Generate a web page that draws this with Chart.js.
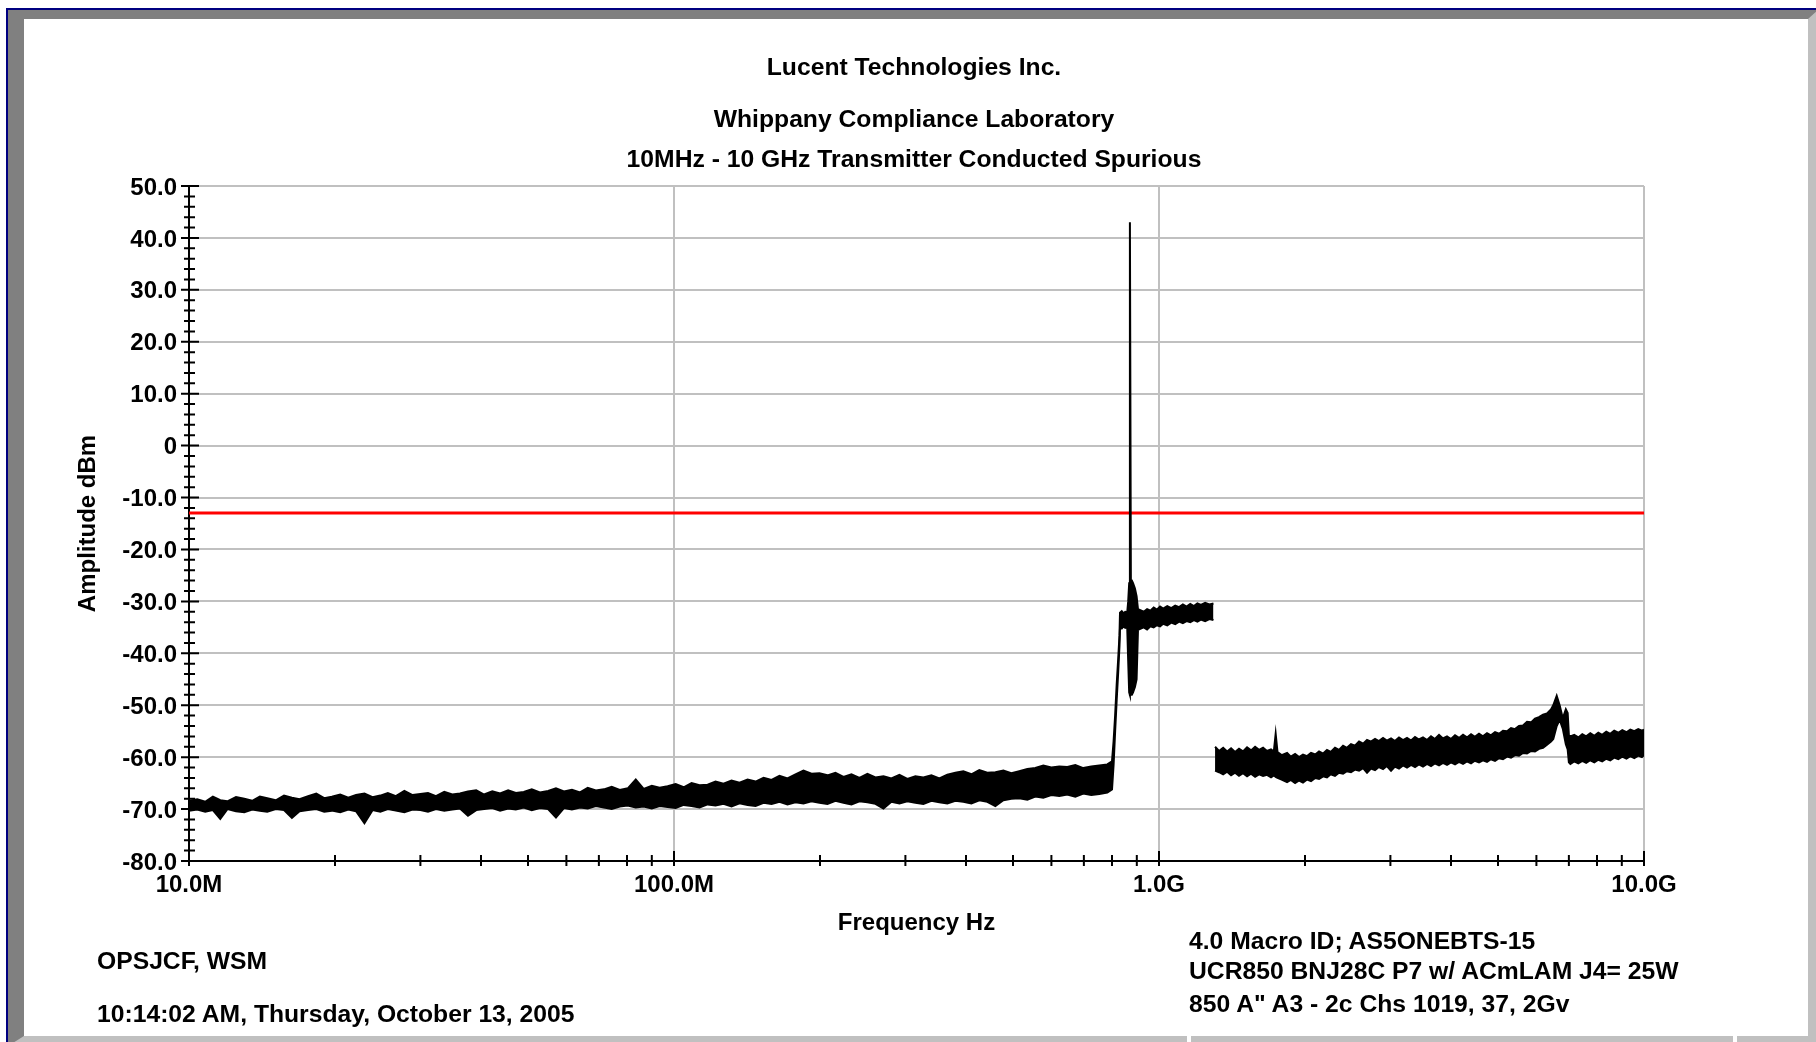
<!DOCTYPE html>
<html>
<head>
<meta charset="utf-8">
<title>Transmitter Conducted Spurious</title>
<script src="https://cdn.jsdelivr.net/npm/chart.js@4.4.0/dist/chart.umd.min.js"></script>
<style>
    html, body { margin: 0; padding: 0; background: #fff; overflow: hidden; }
    body { width: 1816px; height: 1042px; position: relative; font-family: 'Liberation Sans', Arial, sans-serif; font-weight: bold; font-size: 24.7px; color: #000; }
    .navy-top { position: absolute; left: 6px; top: 8px; width: 1810px; height: 2px; background: #000080; }
    .navy-left { position: absolute; left: 6px; top: 8px; width: 2px; height: 1034px; background: #000080; }
    .bevel { position: absolute; left: 8px; top: 10px; width: 1784px; height: 1017px; border-style: solid; border-width: 9px 10px 10px 16px; border-color: #808080 #c0c0c0 #c0c0c0 #808080; background: #fff; }
    .gap { position: absolute; top: 1036px; width: 4px; height: 6px; background: #fff; }
    #chart { position: absolute; left: 0; top: 0; }
    .txt { position: absolute; line-height: 28px; white-space: nowrap; }
    .center { transform: translateX(-50%); }
</style>
</head>
<body>
<div class="navy-top"></div>
<div class="navy-left"></div>
<div class="bevel"></div>
<div class="gap" style="left:1187px"></div>
<div class="gap" style="left:1733px"></div>
<canvas id="chart" width="1816" height="1042"></canvas>

<div class="txt center" style="left:914px; top:53px">Lucent Technologies Inc.</div>
<div class="txt center" style="left:914px; top:105px">Whippany Compliance Laboratory</div>
<div class="txt center" style="left:914px; top:145px">10MHz - 10 GHz Transmitter Conducted Spurious</div>
<div class="txt" style="left:97px; top:947px">OPSJCF, WSM</div>
<div class="txt" style="left:97px; top:1000px">10:14:02 AM, Thursday, October 13, 2005</div>
<div class="txt" style="left:1189px; top:927px">4.0 Macro ID; AS5ONEBTS-15</div>
<div class="txt" style="left:1189px; top:957px">UCR850 BNJ28C P7 w/ ACmLAM J4= 25W</div>
<div class="txt" style="left:1189px; top:990px">850 A" A3 - 2c Chs 1019, 37, 2Gv</div>

<script>
// Trục và nhãn
const xTickValues = [10, 100, 1000, 10000];               // MHz
const xTickLabels = ['10.0M', '100.0M', '1.0G', '10.0G'];
const xMinorSteps = [1, 2, 3, 4, 5, 6, 7, 8, 9];
const yTickValues = [50, 40, 30, 20, 10, 0, -10, -20, -30, -40, -50, -60, -70, -80];
const yTickLabels = ['50.0', '40.0', '30.0', '20.0', '10.0', '0', '-10.0', '-20.0', '-30.0', '-40.0', '-50.0', '-60.0', '-70.0', '-80.0'];

// Đường giới hạn -13 dBm
const limitFreq = [10, 10000];
const limitLevel = [-13, -13];

// Quét 10 MHz - 1.3 GHz (nhiễu nền, sóng mang, vai phổ): tần số MHz, đỉnh và đáy của vết nhiễu (dBm)
const freqLow = [
    10, 10.4, 10.8, 11.2, 11.6, 12.0, 12.5, 13.0, 13.5, 14.0,
    14.5, 15.1, 15.7, 16.3, 16.9, 17.6, 18.3, 19.0, 19.7, 20.5,
    21.3, 22.1, 23.0, 23.9, 24.8, 25.7, 26.7, 27.8, 28.9, 30.0,
    31.1, 32.3, 33.6, 34.9, 36.2, 37.6, 39.1, 40.6, 42.2, 43.8,
    45.5, 47.2, 49.0, 50.9, 52.9, 55.0, 57.1, 59.3, 61.6, 64.0,
    66.4, 69.0, 71.7, 74.4, 77.3, 80.3, 83.4, 86.6, 90.0, 93.4,
    97.0, 100.8, 104.7, 108.7, 112.9, 117.3, 121.8, 126.5, 131.4, 136.5,
    141.8, 147.3, 153.0, 158.9, 165.0, 171.4, 178.0, 184.9, 192.1, 199.5,
    207.2, 215.2, 223.6, 232.2, 241.2, 250.5, 260.2, 270.3, 280.7, 291.6,
    302.8, 314.6, 326.7, 339.4, 352.5, 366.1, 380.3, 395.0, 410.3, 426.1,
    442.6, 459.8, 477.6, 496.0, 515.2, 535.2, 555.9, 577.4, 599.7, 622.9,
    647.0, 672.1, 698.1, 725.1, 753.2, 782.3, 800, 806, 812, 818,
    824, 829, 831, 838, 845, 852, 860, 864, 868, 871,
    875, 879, 884, 892, 899, 905, 915, 930, 945, 960,
    975, 990, 1005, 1020, 1040, 1060, 1080, 1100, 1120, 1140,
    1160, 1180, 1200, 1220, 1245, 1270, 1295
];
const hiLow = [
    -68.4, -68.1, -68.6, -67.6, -68.3, -68.5, -67.7, -68.0, -68.4, -67.6,
    -67.9, -68.3, -67.4, -67.8, -68.1, -67.5, -67.0, -67.9, -67.6, -67.2,
    -67.8, -67.3, -67.0, -67.7, -67.4, -66.9, -67.5, -66.5, -67.3, -67.1,
    -66.9, -67.5, -66.7, -67.2, -67.0, -66.6, -66.4, -67.2, -66.6, -67.0,
    -66.4, -66.9, -66.7, -66.2, -66.8, -66.5, -66.0, -66.6, -66.3, -66.8,
    -65.9, -66.4, -66.2, -65.7, -66.3, -66.0, -64.3, -66.1, -65.5, -65.9,
    -65.6, -65.2, -65.8, -65.0, -65.4, -65.3, -64.7, -65.1, -64.5, -64.9,
    -64.3, -64.7, -64.0, -64.4, -63.6, -64.1, -63.3, -62.6, -63.2, -63.1,
    -63.5, -63.0, -63.8, -63.3, -64.0, -63.2, -63.9, -63.7, -64.1, -63.4,
    -64.2, -63.7, -63.9, -63.5, -64.1, -63.4, -63.0, -62.7, -63.3, -62.5,
    -63.0, -62.9, -62.6, -63.1, -62.7, -62.3, -62.1, -61.6, -62.0, -61.8,
    -61.9, -61.5, -62.1, -61.8, -61.6, -61.4, -60.8, -57.0, -52.0, -46.0,
    -41.0, -36.5, -32.2, -31.9, -32.3, -32.0, -32.1, -30.0, -26.5, 43.0,
    -26.0, -26.0, -26.5, -27.5, -29.0, -31.5, -31.7, -32.0, -31.5, -31.8,
    -31.2, -31.6, -31.0, -31.4, -30.9, -31.3, -30.8, -31.1, -30.6, -31.0,
    -30.5, -30.9, -30.4, -30.7, -30.3, -30.6, -30.4
];
const loLow = [
    -70.3, -70.1, -70.5, -70.2, -71.9, -70.0, -70.4, -70.6, -70.1, -70.3,
    -70.5, -70.0, -70.2, -71.7, -70.4, -70.2, -70.0, -70.5, -70.3, -70.6,
    -70.1, -70.4, -72.7, -70.2, -70.5, -70.0, -70.3, -70.6, -70.1, -70.2,
    -70.5, -70.0, -70.3, -70.1, -69.9, -71.3, -70.2, -70.0, -69.8, -70.3,
    -69.9, -70.1, -69.7, -70.2, -69.8, -70.0, -71.6, -69.8, -70.1, -69.7,
    -69.9, -69.4, -69.7, -70.0, -69.5, -69.3, -69.7, -69.5, -69.9, -69.4,
    -69.6, -69.8, -69.2, -69.4, -69.7, -69.1, -69.3, -69.0, -69.5, -68.9,
    -69.2, -69.4, -68.8, -69.0, -68.6, -69.1, -68.7, -68.9, -68.5, -68.8,
    -69.0, -68.4, -68.8, -69.1, -68.5, -68.7, -69.0, -69.9, -68.6, -68.9,
    -68.5, -68.8, -69.0, -68.4, -68.7, -68.9, -68.4, -68.6, -68.9, -68.3,
    -68.6, -69.4, -68.3, -68.0, -67.9, -68.2, -67.6, -67.8, -67.3, -67.5,
    -67.2, -67.6, -67.0, -67.3, -67.1, -66.8, -66.2, -61.5, -55.0, -49.0,
    -43.5, -38.5, -35.0, -35.2, -34.8, -35.1, -35.0, -41.5, -47.5, -48.0,
    -48.0, -48.0, -47.5, -46.5, -45.0, -35.5, -35.3, -35.0, -35.4, -34.8,
    -35.0, -34.6, -34.8, -34.3, -34.6, -34.1, -34.4, -33.9, -34.2, -33.8,
    -34.0, -33.6, -33.9, -33.5, -33.8, -33.4, -33.6
];

// Quét 1.3 GHz - 10 GHz
const freqHigh = [
    1305, 1330, 1356, 1382, 1408, 1435, 1462, 1490, 1519, 1548,
    1578, 1608, 1639, 1670, 1702, 1725, 1740, 1755, 1790, 1837,
    1870, 1908, 1945, 1981, 2020, 2058, 2100, 2138, 2180, 2220,
    2260, 2306, 2350, 2396, 2440, 2488, 2535, 2585, 2635, 2685,
    2735, 2789, 2840, 2897, 2950, 3009, 3065, 3125, 3185, 3246,
    3310, 3372, 3435, 3502, 3570, 3638, 3705, 3779, 3850, 3925,
    4000, 4077, 4155, 4235, 4315, 4399, 4480, 4569, 4655, 4746,
    4835, 4930, 5025, 5120, 5220, 5319, 5420, 5524, 5630, 5738,
    5850, 5960, 6075, 6191, 6310, 6430, 6500, 6607, 6700, 6800,
    6900, 6960, 7000, 7050, 7180, 7320, 7460, 7600, 7750, 7900,
    8050, 8200, 8360, 8520, 8680, 8850, 9020, 9200, 9370, 9550,
    9730, 9900, 10000
];
const hiHigh = [
    -58.0, -58.8, -58.2, -58.9, -58.3, -59.0, -58.4, -58.9, -58.1, -58.7,
    -58.0, -58.6, -58.2, -58.8, -58.5, -58.9, -55.5, -59.0, -59.6, -59.2,
    -59.9, -59.4, -60.0, -59.5, -59.8, -59.2, -59.5, -58.9, -59.3, -58.6,
    -59.0, -58.2, -58.6, -57.8, -58.2, -57.5, -57.8, -57.0, -57.4, -56.7,
    -57.0, -56.5, -56.9, -56.3, -56.8, -56.4, -56.9, -56.2, -56.7, -56.3,
    -56.8, -56.1, -56.6, -56.2, -56.7, -56.0, -56.5, -55.7, -56.4, -56.0,
    -56.5, -55.8, -56.3, -55.7, -56.2, -55.6, -56.1, -55.5, -56.0, -55.4,
    -55.8, -55.2, -55.5, -54.9, -55.0, -54.4, -54.6, -54.0, -53.9, -53.2,
    -53.3, -52.6, -52.3, -51.8, -51.6, -50.8, -50.0, -48.2, -50.0, -52.5,
    -50.8, -51.5, -55.8, -56.0, -55.7, -56.2, -55.6, -56.0, -55.4, -55.9,
    -55.3, -55.7, -55.1, -55.5, -54.9, -55.3, -54.8, -55.2, -54.7, -55.0,
    -54.6, -54.9, -54.7
];
const loHigh = [
    -62.6, -62.9, -63.3, -62.8, -63.5, -63.0, -63.6, -63.1, -63.7, -63.2,
    -63.8, -63.3, -63.6, -63.4, -63.9, -63.5, -63.8, -64.0, -64.3, -64.8,
    -64.4, -65.0, -64.5, -64.9, -64.3, -64.6, -64.0, -64.2, -63.7, -63.9,
    -63.3, -63.6, -63.0, -63.2, -62.7, -62.9, -62.4, -62.6, -62.1, -63.0,
    -62.2, -62.5, -61.9, -62.3, -61.7, -62.6, -61.8, -62.2, -61.6, -62.0,
    -61.5, -61.9, -61.4, -61.8, -61.3, -61.7, -61.2, -61.6, -61.1, -61.5,
    -61.0, -61.4, -60.9, -61.3, -60.8, -61.2, -60.7, -61.0, -60.6, -60.9,
    -60.4, -60.7, -60.2, -60.4, -59.9, -60.1, -59.6, -59.7, -59.2, -59.3,
    -58.8, -58.9, -58.4, -58.2, -57.6, -57.0, -56.5, -54.0, -52.8, -54.5,
    -57.5, -58.5, -61.0, -61.3, -60.8, -61.2, -60.7, -61.1, -60.6, -61.0,
    -60.5, -60.8, -60.3, -60.6, -60.1, -60.4, -59.9, -60.3, -59.8, -60.2,
    -59.7, -60.0, -59.6
];

function points(freqs, levels) {
    return freqs.map((f, i) => ({ x: f, y: levels[i] }));
}

// Vạch chia nhỏ cắt ngang trục, giống máy phân tích phổ
const tickMarks = {
    id: 'tickMarks',
    afterDraw(chart) {
        const ctx = chart.ctx;
        const xs = chart.scales.x;
        const ys = chart.scales.y;
        ctx.save();
        ctx.strokeStyle = '#000';
        ctx.lineWidth = 2;
        ctx.beginPath();
        xs.ticks.forEach(t => {
            const px = xs.getPixelForValue(t.value);
            const major = xTickValues.includes(t.value);
            ctx.moveTo(px, xs.top - (major ? 10 : 6));
            ctx.lineTo(px, xs.top + 5);
        });
        ys.ticks.forEach(t => {
            const py = ys.getPixelForValue(t.value);
            const major = yTickValues.includes(Math.round(t.value));
            ctx.moveTo(ys.right - (major ? 8 : 5), py);
            ctx.lineTo(ys.right + (major ? 10 : 6), py);
        });
        ctx.stroke();
        ctx.restore();
    }
};

Chart.defaults.font.family = "'Liberation Sans', Arial, sans-serif";
Chart.defaults.font.size = 24;
Chart.defaults.font.weight = 'bold';
Chart.defaults.color = '#000';

const traceStyle = { borderColor: '#000', borderWidth: 2, pointRadius: 0, tension: 0 };

new Chart(document.getElementById('chart'), {
    type: 'line',
    data: {
        datasets: [
            { ...traceStyle, data: points(freqLow, hiLow), fill: false },
            { ...traceStyle, data: points(freqLow, loLow), fill: '-1', backgroundColor: '#000' },
            { ...traceStyle, data: points(freqHigh, hiHigh), fill: false },
            { ...traceStyle, data: points(freqHigh, loHigh), fill: '-1', backgroundColor: '#000' },
            { data: points(limitFreq, limitLevel), borderColor: '#ff0000', borderWidth: 3, pointRadius: 0, fill: false }
        ]
    },
    options: {
        responsive: false,
        animation: false,
        devicePixelRatio: 1,
        layout: { padding: { left: 0, right: 172, top: 186, bottom: 0 } },
        plugins: { legend: { display: false }, tooltip: { enabled: false } },
        scales: {
            x: {
                type: 'logarithmic',
                min: 10,
                max: 10000,
                afterBuildTicks: scale => {
                    const list = [];
                    xTickValues.slice(0, 3).forEach(d => xMinorSteps.forEach(m => list.push({ value: d * m })));
                    list.push({ value: 10000 });
                    scale.ticks = list;
                },
                afterFit: scale => { scale.height = 181; },
                ticks: {
                    autoSkip: false,
                    maxRotation: 0,
                    padding: 10,
                    callback: v => {
                        const i = xTickValues.indexOf(v);
                        return i >= 0 ? xTickLabels[i] : '';
                    }
                },
                grid: {
                    drawTicks: false,
                    lineWidth: 2,
                    color: c => (c.tick && xTickValues.includes(c.tick.value)) ? '#c0c0c0' : 'rgba(0,0,0,0)'
                },
                border: { display: true, color: '#000', width: 2 },
                title: { display: true, text: 'Frequency Hz', padding: { top: 0, bottom: 104 } }
            },
            y: {
                type: 'linear',
                min: -80,
                max: 50,
                afterFit: scale => { scale.width = 189; },
                ticks: {
                    stepSize: 2,
                    autoSkip: false,
                    padding: 12,
                    labelOffset: 2,
                    callback: v => {
                        const i = yTickValues.indexOf(Math.round(v));
                        return i >= 0 ? yTickLabels[i] : '';
                    }
                },
                grid: {
                    drawTicks: false,
                    lineWidth: 2,
                    color: c => (c.tick && yTickValues.includes(Math.round(c.tick.value))) ? '#c0c0c0' : 'rgba(0,0,0,0)'
                },
                border: { display: true, color: '#000', width: 2 },
                title: { display: true, text: 'Amplitude dBm', padding: { top: 74, bottom: 0 } }
            }
        }
    },
    plugins: [tickMarks]
});
</script>
</body>
</html>
